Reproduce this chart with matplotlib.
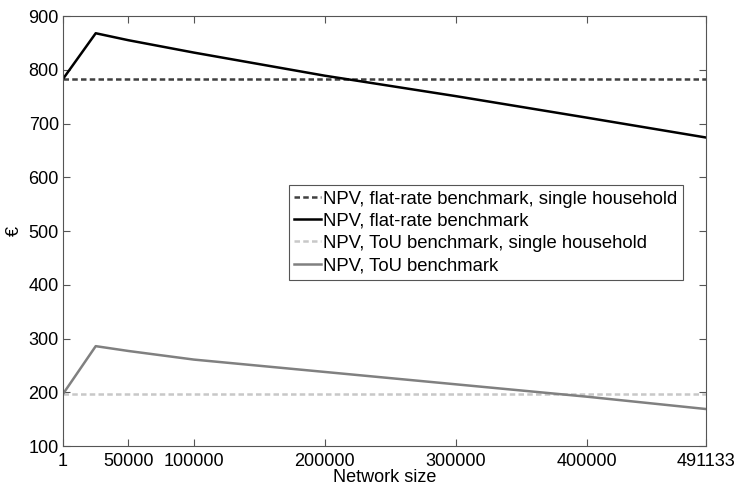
import matplotlib
matplotlib.use("Agg")
import matplotlib.pyplot as plt

plt.rcParams['font.family'] = ['Liberation Sans', 'DejaVu Sans']

# Network sizes (x) and NPV values (euro)
network_size = [1, 25000, 50000, 100000, 200000, 300000, 400000, 491133]
npv_flat = [783, 868, 855, 832, 789, 751, 711, 674]
npv_tou = [197, 286, 277, 261, 238, 215, 192, 169]
npv_flat_single = 782
npv_tou_single = 197

xticks = [1, 50000, 100000, 200000, 300000, 400000, 491133]
yticks = [100, 200, 300, 400, 500, 600, 700, 800, 900]

fig = plt.figure(figsize=(7.41, 4.86), dpi=100)
ax = fig.add_axes([0.085, 0.082, 0.868, 0.885])

fs = 13
lw = 1.8
ax.plot([network_size[0], network_size[-1]], [npv_flat_single] * 2,
        color='#404040', lw=lw, dashes=(2.2, 1.3),
        label='NPV, flat-rate benchmark, single household')
ax.plot(network_size, npv_flat, color='black', lw=lw,
        label='NPV, flat-rate benchmark')
ax.plot([network_size[0], network_size[-1]], [npv_tou_single] * 2,
        color='#c8c8c8', lw=lw, dashes=(2.2, 1.3),
        label='NPV, ToU benchmark, single household')
ax.plot(network_size, npv_tou, color='#808080', lw=lw,
        label='NPV, ToU benchmark')

ax.set_xlim(1, 491133)
ax.set_ylim(100, 900)
ax.set_xticks(xticks)
ax.set_xticklabels([str(t) for t in xticks])
ax.set_yticks(yticks)
ax.tick_params(direction='in', length=5, width=0.8, color='#555555',
               top=True, right=True, labelsize=fs)
ax.tick_params(axis='x', pad=5)
ax.tick_params(axis='y', pad=3)
for s in ax.spines.values():
    s.set_color('#555555')
    s.set_linewidth(0.8)

ax.set_xlabel('Network size', fontsize=fs, labelpad=-1)
ax.set_ylabel('€', fontsize=fs, labelpad=4)

leg = ax.legend(loc='upper left', bbox_to_anchor=(0.351, 0.607), borderaxespad=0,
                fontsize=13.3, handlelength=1.45, handletextpad=0.1,
                labelspacing=0.28, borderpad=0.3, fancybox=False, framealpha=1)
leg.get_frame().set_edgecolor('#555555')
leg.get_frame().set_linewidth(0.8)

fig.savefig('out.png', dpi=100)
